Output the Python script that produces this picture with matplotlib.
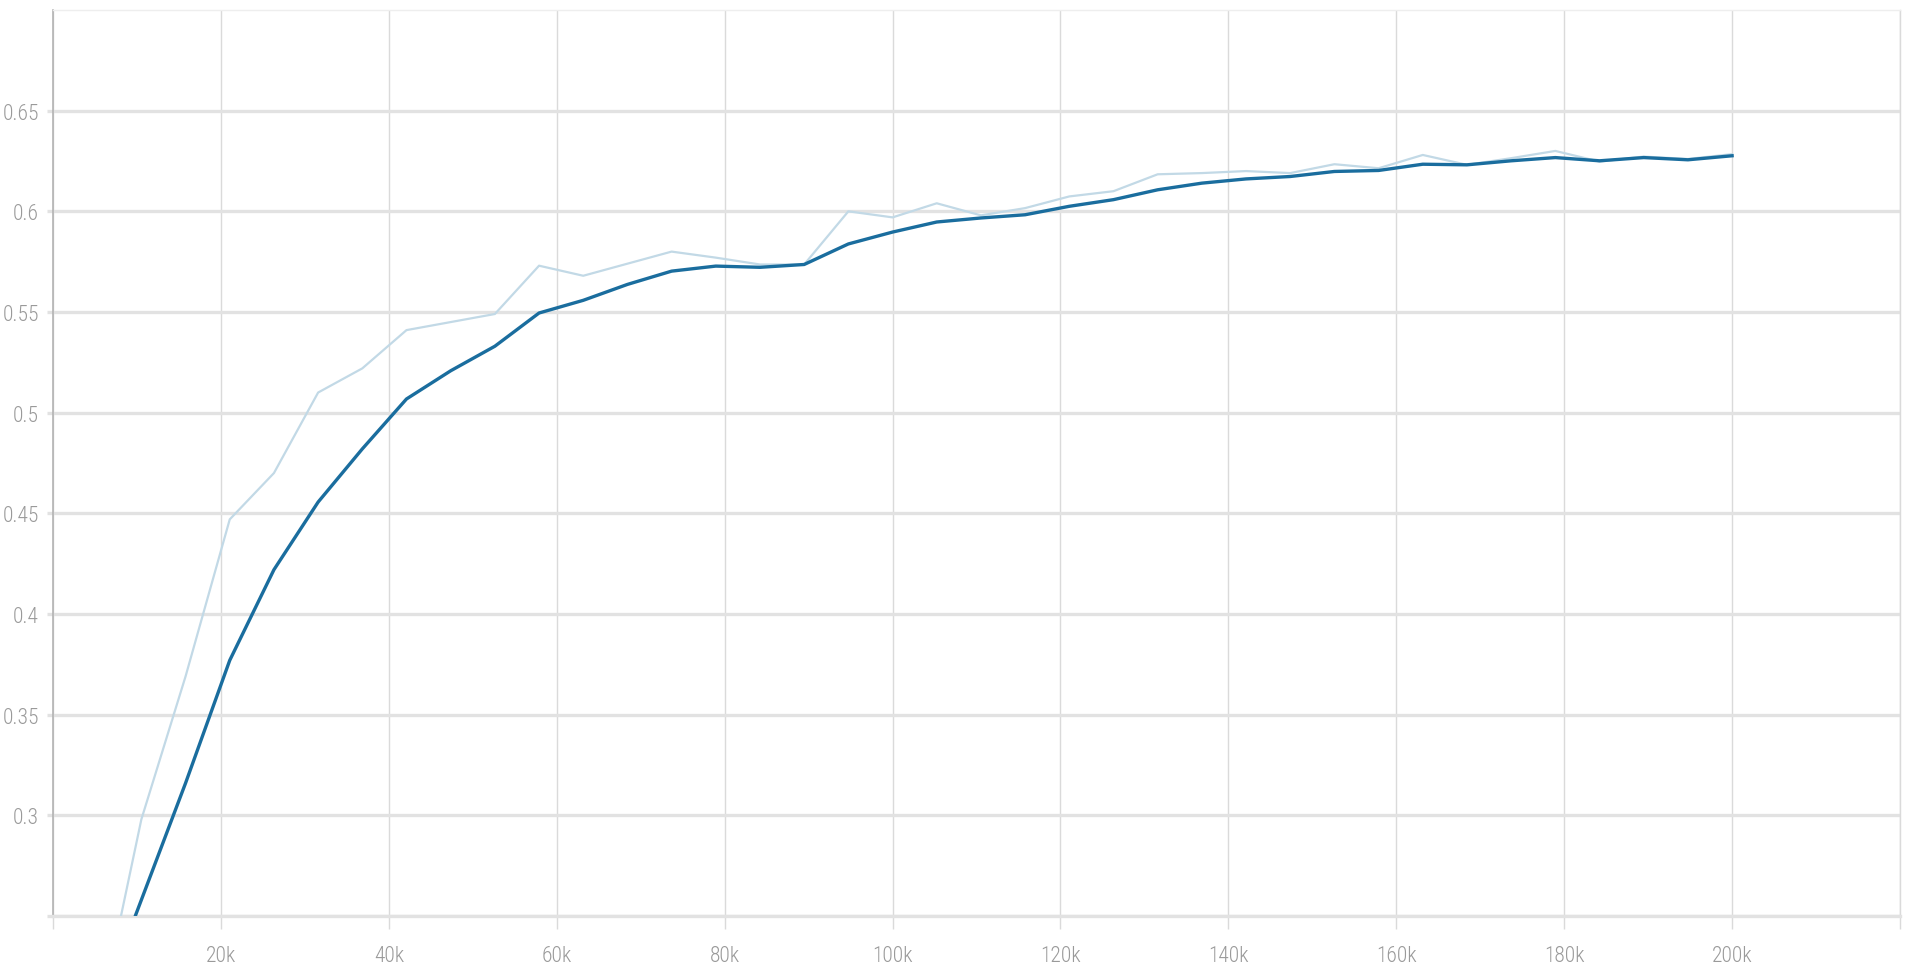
"""
Recreate a TensorBoard-style scalar chart: raw series plus smoothed series.

Saves out.png (1910x979).
"""

import matplotlib
matplotlib.use("Agg")
import matplotlib.pyplot as plt
from matplotlib import font_manager

# training steps (one summary every ~5.26k steps)
STEPS = [
    5263, 10526, 15789, 21053, 26316, 31579, 36842, 42105, 47368, 52632,
    57895, 63158, 68421, 73684, 78947, 84211, 89474, 94737, 100000, 105263,
    110526, 115789, 121053, 126316, 131579, 136842, 142105, 147368, 152632, 157895,
    163158, 168421, 173684, 178947, 184211, 189474, 194737, 200000,
]

# raw values (light line)
RAW = [
    0.194, 0.298, 0.369, 0.447, 0.470, 0.510, 0.522, 0.541, 0.545, 0.549,
    0.573, 0.568, 0.574, 0.580, 0.577, 0.5736, 0.5736, 0.600, 0.597, 0.604,
    0.598, 0.6016, 0.6074, 0.610, 0.6184, 0.619, 0.620, 0.619, 0.6234, 0.6214,
    0.628, 0.6231, 0.6264, 0.630, 0.6247, 0.6272, 0.626, 0.6284,
]

# smoothed values (dark line)
SMOOTHED = [
    0.200, 0.258, 0.316, 0.377, 0.422, 0.4556, 0.482, 0.5068, 0.5208, 0.533,
    0.5495, 0.5558, 0.5637, 0.5703, 0.5728, 0.5722, 0.5736, 0.5838, 0.5897, 0.5947,
    0.5967, 0.5983, 0.6025, 0.6058, 0.6107, 0.6140, 0.6161, 0.6173, 0.6198, 0.6203,
    0.6234, 0.6231, 0.6251, 0.6267, 0.6251, 0.6267, 0.6256, 0.6276,
]

X_TICKS = [0, 20000, 40000, 60000, 80000, 100000, 120000, 140000, 160000, 180000, 200000, 220000]
X_TICK_LABELS = ["", "20k", "40k", "60k", "80k", "100k", "120k", "140k", "160k", "180k", "200k", ""]
Y_TICKS = [0.25, 0.3, 0.35, 0.4, 0.45, 0.5, 0.55, 0.6, 0.65]
Y_TICK_LABELS = ["", "0.3", "0.35", "0.4", "0.45", "0.5", "0.55", "0.6", "0.65"]

RAW_COLOR = "#c2d9e6"
SMOOTH_COLOR = "#1a6d9e"
LABEL_COLOR = "#9a9a9a"


def pick_font() -> dict:
    """Return text properties for the narrowest sans font that is installed."""
    entries = font_manager.fontManager.ttflist
    names = {f.name for f in entries}
    for name in ("Roboto Condensed", "Liberation Sans Narrow"):
        if name in names:
            return {"family": name}
    for f in entries:
        if f.name in ("Roboto", "DejaVu Sans") and f.stretch == "condensed":
            return {"family": f.name, "stretch": "condensed"}
    return {"family": "DejaVu Sans"}


def main() -> None:
    font = pick_font()

    fig = plt.figure(figsize=(19.1, 9.79), dpi=100)
    ax = fig.add_axes([53 / 1910, 1 - 917 / 979, (1900 - 53) / 1910, (917 - 11) / 979])

    ax.plot(STEPS, RAW, color=RAW_COLOR, linewidth=1.6, zorder=3)
    ax.plot(STEPS, SMOOTHED, color=SMOOTH_COLOR, linewidth=2.4, zorder=4)

    ax.set_xlim(0, 220000)
    ax.set_ylim(0.25, 0.70)

    ax.set_xticks(X_TICKS)
    ax.set_xticklabels(X_TICK_LABELS)
    ax.set_yticks(Y_TICKS)
    ax.set_yticklabels(Y_TICK_LABELS)

    for label in ax.get_xticklabels() + ax.get_yticklabels():
        label.set_fontsize(15.5)
        label.set_fontweight("light")
        label.set_color(LABEL_COLOR)
        label.set_fontfamily(font["family"])
        if "stretch" in font:
            label.set_fontstretch(font["stretch"])

    ax.xaxis.grid(True, color="#dadada", linewidth=1.0, zorder=0)
    ax.yaxis.grid(True, color="#e2e2e2", linewidth=2.4, zorder=0)
    ax.tick_params(axis="x", length=9, width=1.0, color="#dadada", pad=12)
    ax.tick_params(axis="y", length=4, width=2.4, color="#e2e2e2", pad=6)

    ax.spines["left"].set_color("#b3b3b3")
    ax.spines["left"].set_linewidth(1.2)
    ax.spines["bottom"].set_color("#e2e2e2")
    ax.spines["bottom"].set_linewidth(2.4)
    ax.spines["top"].set_color("#eeeeee")
    ax.spines["top"].set_linewidth(1.0)
    ax.spines["right"].set_color("#dadada")
    ax.spines["right"].set_linewidth(1.0)

    fig.savefig("out.png", dpi=100, facecolor="white")
    plt.close(fig)


if __name__ == "__main__":
    main()
